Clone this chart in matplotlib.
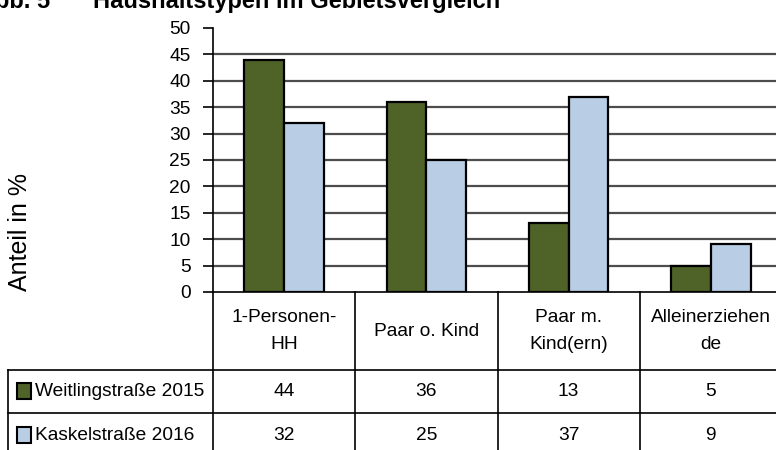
import matplotlib
matplotlib.use('Agg')
import matplotlib.pyplot as plt
import numpy as np
from matplotlib.patches import Rectangle

# Daten
kategorien = ['1-Personen-\nHH', 'Paar o. Kind', 'Paar m.\nKind(ern)', 'Alleinerziehen\nde']
serien = ['Weitlingstraße 2015', 'Kaskelstraße 2016']
weitling = [44, 36, 13, 5]
kaskel = [32, 25, 37, 9]
farben = ['#4F6228', '#B9CDE5']
yticks = list(range(0, 55, 5))

plt.rcParams['font.family'] = ['Liberation Sans', 'DejaVu Sans']
fs = 13.8

W, H = 776, 450
fig = plt.figure(figsize=(W / 100, H / 100), dpi=100)

# Plotbereich in Pixeln
x0, x1 = 213, 782
yb, yt = 292, 28
ax = fig.add_axes([x0 / W, 1 - yb / H, (x1 - x0) / W, (yb - yt) / H])

x = np.arange(len(kategorien))
bw = 0.28
for i, (werte, farbe) in enumerate(zip([weitling, kaskel], farben)):
    ax.bar(x + (i - 0.5) * bw, werte, bw, color=farbe, edgecolor='black',
           linewidth=1.6, zorder=3)

ax.set_xlim(-0.5, 3.5)
ax.set_ylim(0, 50)
ax.set_yticks(yticks)
ax.set_xticks([])
ax.tick_params(axis='y', length=7, width=1.2, pad=9, labelsize=fs)
for y in yticks[1:-1]:
    ax.axhline(y, color='#4d4d4d', lw=1.6, zorder=1)
ax.spines[['top', 'right']].set_visible(False)
ax.spines['left'].set_linewidth(1.2)
ax.spines['bottom'].set_linewidth(1.2)

# Datentabelle unter der Grafik
trans = ax.get_xaxis_transform()
pxcat = (x1 - x0) / len(kategorien)

def tx(px):
    return -0.5 + (px - x0) / pxcat

def ty(py):
    return (yb - py) / (yb - yt)

kw = dict(color='black', lw=1.2, transform=trans, clip_on=False)
ax.plot([tx(8), 3.5], [ty(370)] * 2, **kw)
ax.plot([tx(8), 3.5], [ty(413)] * 2, **kw)
ax.plot([tx(8)] * 2, [ty(370), ty(460)], **kw)
for xv in np.arange(len(kategorien) + 1) - 0.5:
    ax.plot([xv, xv], [0, ty(460)], **kw)

for i, kat in enumerate(kategorien):
    ax.text(i, ty(331), kat, ha='center', va='center', transform=trans,
            fontsize=fs, linespacing=1.8, clip_on=False)

zeilen_y = [391, 435]
for werte, zy in zip([weitling, kaskel], zeilen_y):
    for i, v in enumerate(werte):
        ax.text(i, ty(zy), str(v), ha='center', va='center', transform=trans,
                fontsize=fs, clip_on=False)

for serie, farbe, zy in zip(serien, farben, zeilen_y):
    fig.add_artist(Rectangle((17 / W, 1 - (zy + 8) / H), 14 / W, 16 / H,
                             facecolor=farbe, edgecolor='black', lw=1.5,
                             transform=fig.transFigure))
    fig.text(35 / W, 1 - zy / H, serie, ha='left', va='center', fontsize=fs)

fig.text(20 / W, 1 - 232 / H, 'Anteil in %', rotation=90, ha='center', va='center',
         fontsize=18)

# Titel (oben abgeschnitten wie im Original)
fig.text(50 / W, 1 - 8 / H, 'Abb. 5', ha='right', va='baseline',
         fontweight='bold', fontsize=17)
fig.text(93 / W, 1 - 8 / H, 'Haushaltstypen im Gebietsvergleich', ha='left',
         va='baseline', fontweight='bold', fontsize=17)

fig.savefig('out.png', dpi=100)
